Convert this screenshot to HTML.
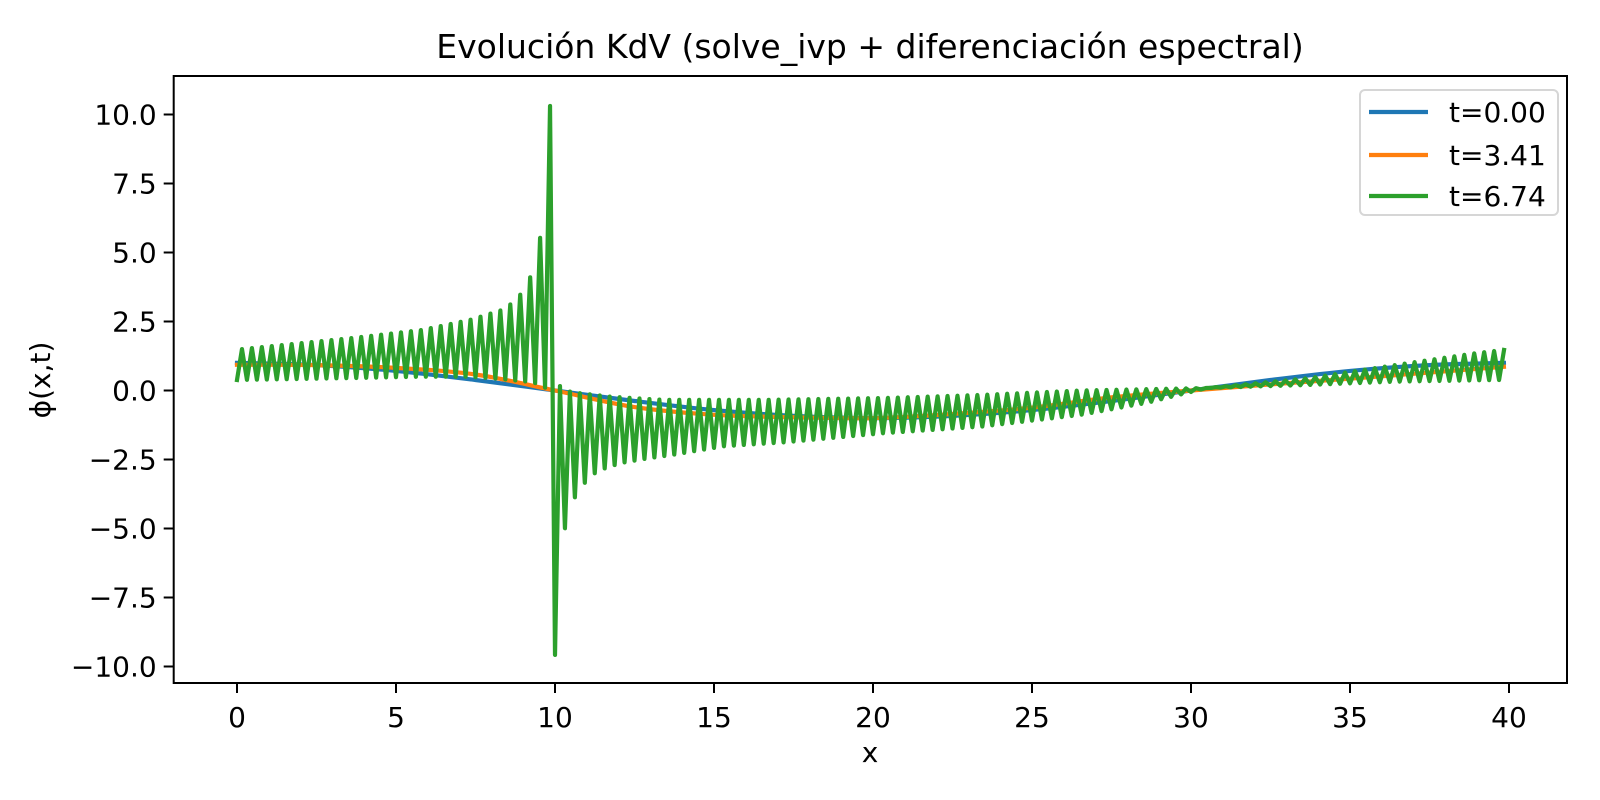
<!DOCTYPE html>
<html><head><meta charset="utf-8"><style>
html,body{margin:0;padding:0;background:#fff;}
svg{display:block;font-family:"DejaVu Sans","Liberation Sans",sans-serif;}
</style></head><body>
<svg id="chart" width="1600" height="800" viewBox="0 0 1600 800">
<rect width="1600" height="800" fill="#fff"/>
<text x="870" y="58" font-size="33" text-anchor="middle">Evolución KdV (solve_ivp + diferenciación espectral)</text>
<g id="plot"></g>
<g id="axes"></g>
<text x="870" y="762" font-size="28" text-anchor="middle">x</text>
<text x="0" y="0" font-size="28" text-anchor="middle" transform="translate(50,380) rotate(-90)">ϕ(x,t)</text>
<g>
<rect x="1360" y="90" width="198" height="125" rx="5" fill="#fff" fill-opacity="0.8" stroke="#d6d6d6" stroke-width="2"/>
<line x1="1369" y1="112" x2="1428" y2="112" stroke="#1f77b4" stroke-width="4.2"/>
<text x="1449" y="122" font-size="28">t=0.00</text>
<line x1="1369" y1="155" x2="1428" y2="155" stroke="#ff7f0e" stroke-width="4.2"/>
<text x="1449" y="165" font-size="28">t=3.41</text>
<line x1="1369" y1="196" x2="1428" y2="196" stroke="#2ca02c" stroke-width="4.2"/>
<text x="1449" y="206" font-size="28">t=6.74</text>
</g>
</svg>
<script>
const smoothX = [0,2.5,5,7.5,10,12.5,15,17.5,20,22.5,25,27.5,30,32.5,35,37.5,39.84];
const blueVals = [1,0.92,0.71,0.38,0,-0.38,-0.71,-0.92,-1,-0.92,-0.71,-0.38,0,0.38,0.71,0.92,1];
const orangeVals = [0.93,0.92,0.82,0.58,0,-0.6,-0.88,-0.97,-1.0,-0.85,-0.62,-0.25,0,0.22,0.43,0.65,0.86];
const greenHiX = [0.16,3.6,5.8,7.3,8.27,8.58,8.9,9.21,9.53,9.84,10.16,10.47,10.8,11.7,13.4,16.6,20.4,23.4,26.5,28.6,30.5,33.7,36.4,39,39.84];
const greenHi = [1.5,1.9,2.19,2.55,2.89,3.1,3.46,4.06,5.51,10.43,0.04,-0.04,-0.1,-0.22,-0.34,-0.34,-0.27,-0.16,0,0.05,0.09,0.45,0.92,1.36,1.47];
const greenLoX = [0,3.6,5.8,7.3,8.27,9.06,9.37,9.69,10.0,10.31,10.63,10.94,11.25,11.57,11.88,12.2,12.8,13.75,15.3,17.2,20.3,23.4,26.5,28.6,30.5,33.7,36.4,39.7];
const greenLo = [0.38,0.45,0.5,0.5,0.42,0.33,0.27,0.1,-9.58,-5.0,-3.85,-3.34,-3.0,-2.82,-2.7,-2.6,-2.48,-2.32,-2.02,-1.88,-1.55,-1.31,-0.89,-0.45,0.09,0.2,0.32,0.38];
const gridN = 256;
const gridDx = 0.15625;
const xTicks = [0,5,10,15,20,25,30,35,40];
const yTicks = [-10,-7.5,-5,-2.5,0,2.5,5,7.5,10];
const yTickLabels = ["\u221210.0","\u22127.5","\u22125.0","\u22122.5","0.0","2.5","5.0","7.5","10.0"];

const X0=237, XS=31.8, Y0=390.5, YS=27.6;
const L=173.7, R=1567, T=76, B=683;
const sx = v => X0 + v*XS;
const sy = v => Y0 - v*YS;
const NS='http://www.w3.org/2000/svg';
const plot=document.getElementById('plot'), axes=document.getElementById('axes');

function interp(xs, ys, x){
  if(x<=xs[0]) return ys[0];
  for(let i=1;i<xs.length;i++){ if(x<=xs[i]){const t=(x-xs[i-1])/(xs[i]-xs[i-1]); return ys[i-1]+t*(ys[i]-ys[i-1]);} }
  return ys[ys.length-1];
}
function smoothPath(xs, ys){
  const p=xs.map((x,i)=>[sx(x),sy(ys[i])]);
  let d=`M${p[0][0]},${p[0][1]}`;
  for(let i=0;i<p.length-1;i++){
    const p0=p[Math.max(0,i-1)],p1=p[i],p2=p[i+1],p3=p[Math.min(p.length-1,i+2)];
    const c1=[p1[0]+(p2[0]-p0[0])/6,p1[1]+(p2[1]-p0[1])/6];
    const c2=[p2[0]-(p3[0]-p1[0])/6,p2[1]-(p3[1]-p1[1])/6];
    d+=` C${c1[0]},${c1[1]} ${c2[0]},${c2[1]} ${p2[0]},${p2[1]}`;
  }
  return d;
}
const clip=document.createElementNS(NS,'clipPath'); clip.setAttribute('id','pc');
const cr=document.createElementNS(NS,'rect'); cr.setAttribute('x',L);cr.setAttribute('y',T);cr.setAttribute('width',R-L);cr.setAttribute('height',B-T);
clip.appendChild(cr); document.getElementById('chart').appendChild(clip);
plot.setAttribute('clip-path','url(#pc)');

function addPath(d,color,name){
  const el=document.createElementNS(NS,'path');
  el.setAttribute('d',d);el.setAttribute('fill','none');el.setAttribute('stroke',color);
  el.setAttribute('stroke-width','4.2');el.setAttribute('stroke-linejoin','round');el.setAttribute('stroke-linecap','square');
  
  
  plot.appendChild(el);
}
addPath(smoothPath(smoothX,blueVals),'#1f77b4','series-t0');
addPath(smoothPath(smoothX,orangeVals),'#ff7f0e','series-t341');
let gd='';
for(let i=0;i<gridN;i++){
  const x=i*gridDx;
  const v=(i%2===1)?interp(greenHiX,greenHi,x):interp(greenLoX,greenLo,x);
  gd+=(i?' L':'M')+sx(x).toFixed(2)+','+sy(v).toFixed(2);
}
addPath(gd,'#2ca02c','series-t674');

const fr=document.createElementNS(NS,'rect');
fr.setAttribute('x',L);fr.setAttribute('y',T);fr.setAttribute('width',R-L);fr.setAttribute('height',B-T);
fr.setAttribute('fill','none');fr.setAttribute('stroke','#000');fr.setAttribute('stroke-width','2');


axes.appendChild(fr);
xTicks.forEach(v=>{
  const t=document.createElementNS(NS,'line');
  t.setAttribute('x1',sx(v));t.setAttribute('x2',sx(v));t.setAttribute('y1',B);t.setAttribute('y2',B+10);
  t.setAttribute('stroke','#000');t.setAttribute('stroke-width','2');
  
  
  axes.appendChild(t);
  const l=document.createElementNS(NS,'text');
  l.setAttribute('x',sx(v));l.setAttribute('y',B+44);l.setAttribute('font-size','28');l.setAttribute('text-anchor','middle');
  l.textContent=String(v);
  
  
  axes.appendChild(l);
});
yTicks.forEach((v,i)=>{
  const t=document.createElementNS(NS,'line');
  t.setAttribute('x1',L-10);t.setAttribute('x2',L);t.setAttribute('y1',sy(v));t.setAttribute('y2',sy(v));
  t.setAttribute('stroke','#000');t.setAttribute('stroke-width','2');
  
  
  axes.appendChild(t);
  const l=document.createElementNS(NS,'text');
  l.setAttribute('x',L-17);l.setAttribute('y',sy(v)+10);l.setAttribute('font-size','28');l.setAttribute('text-anchor','end');
  l.textContent=yTickLabels[i];
  
  
  axes.appendChild(l);
});
</script>
</body></html>
